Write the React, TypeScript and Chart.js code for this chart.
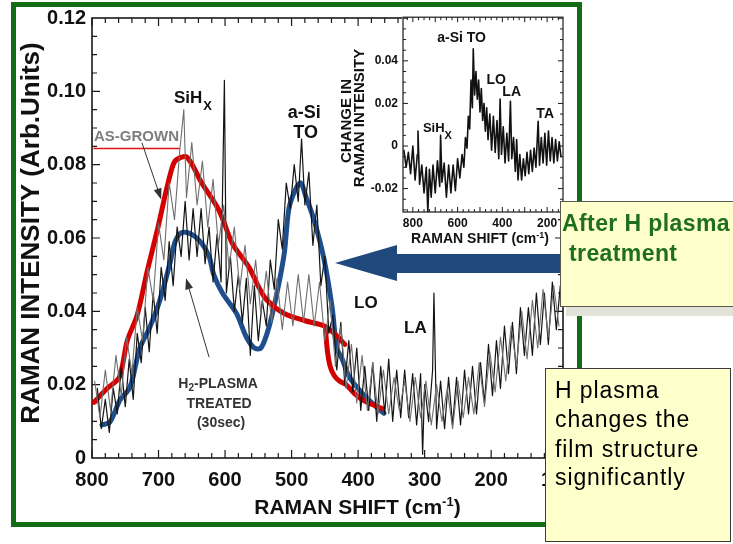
import React, { useEffect, useRef } from "react";
import { Chart, registerables } from "chart.js";

Chart.register(...registerables);

const FONT = "'Liberation Sans', Arial, Helvetica, sans-serif";

// ---------- axes ----------
const mainXTicks = [800, 700, 600, 500, 400, 300, 200, 100];
const mainYTicks = [0, 0.02, 0.04, 0.06, 0.08, 0.1, 0.12];
const insetXTicks = [800, 600, 400, 200];
const insetYTicks = [-0.02, 0, 0.02, 0.04];

// ---------- main spectrum: H2-plasma treated (black) ----------
const treatedShift = [
  792, 786, 780, 774, 768, 762, 756, 750, 744, 738, 732, 726, 720, 714, 708, 702, 696, 690, 684, 678,
  672, 666, 660, 654, 648, 642, 636, 630, 624, 618, 612, 606, 601, 598, 592, 586, 580, 574, 568, 562,
  556, 550, 544, 538, 532, 526, 520, 514, 508, 502, 496, 490, 485, 480, 474, 468, 462, 456, 450, 444,
  438, 432, 426, 420, 414, 408, 402, 396, 390, 384, 378, 372, 366, 360, 354, 348, 342, 336, 330, 324,
  318, 312, 306, 303, 300, 294, 288, 286, 282, 276, 270, 264, 258, 252, 246, 240, 234, 228, 222, 216,
  210, 204, 198, 192, 186, 180, 174, 168, 162, 156, 150, 144, 138, 132, 126, 120, 114, 108, 102, 96,
];
const treatedIntensity = [
  0.019, 0.008, 0.016, 0.007, 0.019, 0.012, 0.025, 0.014, 0.027, 0.016, 0.034, 0.026, 0.041, 0.029, 0.045, 0.034, 0.052, 0.043, 0.059, 0.047,
  0.063, 0.055, 0.07, 0.054, 0.068, 0.055, 0.068, 0.053, 0.063, 0.048, 0.061, 0.048, 0.103, 0.045, 0.055, 0.04, 0.05, 0.037, 0.049, 0.028,
  0.047, 0.032, 0.043, 0.036, 0.054, 0.046, 0.065, 0.057, 0.075, 0.068, 0.08, 0.07, 0.087, 0.069, 0.078, 0.058, 0.069, 0.047, 0.055, 0.034,
  0.039, 0.024, 0.037, 0.02, 0.032, 0.018, 0.03, 0.013, 0.025, 0.013, 0.026, 0.01, 0.025, 0.012, 0.027, 0.01, 0.024, 0.011, 0.024, 0.011,
  0.023, 0.009, 0.023, 0.001, 0.02, 0.01, 0.024, 0.045, 0.008, 0.021, 0.008, 0.022, 0.009, 0.022, 0.009, 0.024, 0.012, 0.025, 0.012, 0.026,
  0.015, 0.031, 0.017, 0.032, 0.019, 0.036, 0.023, 0.037, 0.023, 0.041, 0.028, 0.041, 0.028, 0.045, 0.031, 0.045, 0.031, 0.048, 0.035, 0.047,
];

// ---------- main spectrum: as-grown (grey) ----------
const asGrownShift = [
  796, 788, 780, 772, 764, 756, 748, 740, 732, 724, 716, 708, 700, 692, 684, 676, 668, 662, 658, 650,
  642, 634, 626, 618, 610, 602, 594, 586, 578, 570, 562, 554, 546, 538, 530, 522, 514, 506, 498, 490,
  482, 474, 466, 458, 450, 442, 434, 426, 418, 410, 402, 394, 386, 378, 370, 362, 354, 346, 338, 330,
  322, 314, 306, 298, 290, 282, 274, 266, 258, 250, 242, 234, 226, 218, 210, 202, 194, 186, 178, 170,
  162, 154, 146, 138, 130, 122, 114, 106, 98,
];
const asGrownIntensity = [
  0.021, 0.011, 0.024, 0.013, 0.028, 0.017, 0.033, 0.023, 0.041, 0.032, 0.052, 0.043, 0.064, 0.054, 0.075, 0.065, 0.084, 0.095, 0.071, 0.086,
  0.069, 0.081, 0.063, 0.076, 0.058, 0.069, 0.052, 0.063, 0.046, 0.058, 0.042, 0.054, 0.039, 0.051, 0.037, 0.049, 0.035, 0.048, 0.036, 0.05,
  0.037, 0.05, 0.036, 0.048, 0.032, 0.043, 0.025, 0.036, 0.019, 0.031, 0.015, 0.028, 0.013, 0.026, 0.012, 0.024, 0.012, 0.022, 0.013, 0.021,
  0.01, 0.022, 0.011, 0.021, 0.009, 0.02, 0.01, 0.019, 0.008, 0.021, 0.011, 0.022, 0.012, 0.026, 0.014, 0.029, 0.018, 0.033, 0.021, 0.036,
  0.025, 0.04, 0.027, 0.043, 0.03, 0.046, 0.033, 0.047, 0.036,
];

// ---------- hand-drawn guide curves ----------
const redShift = [797, 777, 759, 747, 732, 717, 702, 687, 678, 672, 657, 635, 609, 589, 564, 549, 537, 511, 481, 451, 436, 420];
const redIntensity = [0.0152, 0.019, 0.022, 0.032, 0.039, 0.051, 0.062, 0.074, 0.08, 0.0815, 0.082, 0.075, 0.0675, 0.0585, 0.052, 0.0465, 0.043, 0.0394, 0.0375, 0.036, 0.034, 0.031];
const redTailShift = [449, 446, 442, 436, 428, 418, 405, 390, 375, 364];
const redTailIntensity = [0.035, 0.029, 0.025, 0.0225, 0.021, 0.02, 0.0175, 0.0155, 0.0143, 0.0135];
const blueShift = [785, 773, 758, 743, 728, 713, 698, 683, 675, 665, 650, 635, 624, 617, 604, 583, 568, 556, 546, 534, 522, 511, 504, 493, 486, 478, 466, 451, 439, 432, 424, 413, 394, 373, 361];
const blueIntensity = [0.009, 0.0098, 0.0158, 0.0193, 0.03, 0.0357, 0.043, 0.053, 0.059, 0.0615, 0.061, 0.0585, 0.055, 0.05, 0.045, 0.0395, 0.033, 0.03, 0.03, 0.0357, 0.045, 0.0558, 0.068, 0.0737, 0.075, 0.071, 0.0648, 0.054, 0.041, 0.03, 0.027, 0.022, 0.0177, 0.014, 0.0122];
const underlineShift = [797, 669];
const underlineIntensity = [0.0844, 0.0844];

// ---------- inset: change in Raman intensity ----------
const insetShift = [
  840, 830, 820, 810, 800, 790, 780, 777, 770, 760, 750, 740, 733, 726, 718, 710, 700, 690, 680, 676,
  670, 660, 650, 640, 630, 620, 610, 600, 590, 580, 572, 565, 558, 552, 546, 540, 534, 530, 524, 518,
  512, 506, 500, 494, 488, 482, 476, 470, 464, 456, 448, 440, 432, 424, 416, 410, 404, 396, 388, 380,
  372, 364, 358, 350, 342, 336, 330, 322, 314, 306, 298, 290, 282, 274, 266, 258, 250, 240, 234, 226,
  218, 210, 202, 194, 186, 178, 170, 162, 154, 146, 138,
];
const insetChange = [
  -0.002, -0.01, -0.003, -0.013, 0.0, -0.016, -0.004, 0.007, -0.018, -0.009, -0.022, -0.01, -0.031, -0.011, -0.024, -0.009, -0.022, -0.007, -0.019, 0.005,
  -0.017, -0.008, -0.024, -0.009, -0.022, -0.009, -0.021, -0.006, -0.015, -0.004, -0.01, 0.004, -0.001, 0.014, 0.008, 0.031, 0.018, 0.0456, 0.024, 0.035,
  0.022, 0.031, 0.016, 0.027, 0.012, 0.02, 0.007, 0.018, 0.003, 0.015, -0.002, 0.014, -0.003, 0.012, -0.006, 0.022, -0.004, 0.009, -0.008, 0.006,
  -0.007, 0.021, -0.006, 0.004, -0.012, 0.003, -0.016, -0.004, -0.016, -0.006, -0.014, -0.003, -0.013, -0.002, -0.012, -0.001, -0.01, 0.0116, -0.009, 0.004,
  -0.008, 0.006, -0.009, 0.007, -0.007, 0.004, -0.008, 0.003, -0.007, 0.002, -0.005,
];

const pts = (xs: number[], ys: number[]) => xs.map((x, i) => ({ x, y: ys[i] }));

function drawArrow(ctx: CanvasRenderingContext2D, x1: number, y1: number, x2: number, y2: number, color: string) {
  const ang = Math.atan2(y2 - y1, x2 - x1);
  const hl = 11;
  const hw = 4;
  ctx.strokeStyle = color;
  ctx.fillStyle = color;
  ctx.lineWidth = 1;
  ctx.beginPath();
  ctx.moveTo(x1, y1);
  ctx.lineTo(x2 - hl * 0.7 * Math.cos(ang), y2 - hl * 0.7 * Math.sin(ang));
  ctx.stroke();
  ctx.beginPath();
  ctx.moveTo(x2, y2);
  ctx.lineTo(x2 - hl * Math.cos(ang) + hw * Math.sin(ang), y2 - hl * Math.sin(ang) - hw * Math.cos(ang));
  ctx.lineTo(x2 - hl * Math.cos(ang) - hw * Math.sin(ang), y2 - hl * Math.sin(ang) + hw * Math.cos(ang));
  ctx.closePath();
  ctx.fill();
}

function txt(ctx: CanvasRenderingContext2D, s: string, x: number, y: number, size: number, align: CanvasTextAlign = "left", color = "#111", weight = "bold") {
  ctx.font = `${weight} ${size}px ${FONT}`;
  ctx.fillStyle = color;
  ctx.textAlign = align;
  ctx.textBaseline = "alphabetic";
  ctx.fillText(s, x, y);
}

// parts: [text, size, rise]
function runText(ctx: CanvasRenderingContext2D, parts: [string, number, number][], cx: number, baseline: number, color = "#111") {
  let total = 0;
  const widths = parts.map(([s, size]) => {
    ctx.font = `bold ${size}px ${FONT}`;
    const w = ctx.measureText(s).width;
    total += w;
    return w;
  });
  let x = cx - total / 2;
  parts.forEach(([s, size, rise], i) => {
    txt(ctx, s, x, baseline - rise, size, "left", color);
    x += widths[i];
  });
}

const mainDecor = {
  id: "mainDecor",
  beforeDatasetsDraw(chart: any) {
    const { ctx, chartArea: a } = chart;
    const x = chart.scales.x;
    const y = chart.scales.y;
    ctx.save();
    ctx.strokeStyle = "#1a1a1a";
    ctx.lineWidth = 1.2;
    ctx.beginPath();
    for (let v = 100; v <= 800; v += 20) {
      const px = x.getPixelForValue(v);
      const len = v % 100 === 0 ? 8 : 5;
      ctx.moveTo(px, a.bottom);
      ctx.lineTo(px, a.bottom - len);
      ctx.moveTo(px, a.top);
      ctx.lineTo(px, a.top + len);
    }
    for (let k = 1; k < 24; k++) {
      const py = y.getPixelForValue(k * 0.005);
      const len = k % 4 === 0 ? 8 : 5;
      ctx.moveTo(a.left, py);
      ctx.lineTo(a.left + len, py);
      ctx.moveTo(a.right, py);
      ctx.lineTo(a.right - len, py);
    }
    ctx.stroke();
    ctx.lineWidth = 1.6;
    ctx.strokeRect(a.left, a.top, a.right - a.left, a.bottom - a.top);
    ctx.restore();
  },
  afterDatasetsDraw(chart: any) {
    const { ctx } = chart;
    const X = (v: number) => chart.scales.x.getPixelForValue(v);
    const Y = (v: number) => chart.scales.y.getPixelForValue(v);
    ctx.save();
    // peak labels
    txt(ctx, "SiH", X(676.7), Y(0.0969), 17);
    ctx.font = `bold 17px ${FONT}`;
    const wSiH = ctx.measureText("SiH").width;
    txt(ctx, "X", X(676.7) + wSiH + 1, Y(0.0948), 13);
    txt(ctx, "a-Si", X(481), Y(0.0928), 18, "center");
    txt(ctx, "TO", X(479), Y(0.0873), 18, "center");
    txt(ctx, "LO", X(406), Y(0.0408), 17);
    txt(ctx, "LA", X(331), Y(0.034), 17);
    txt(ctx, "AS-GROWN", X(797), Y(0.0865), 15, "left", "#7d7d7d");
    // H2-plasma caption
    runText(ctx, [["H", 14, 0], ["2", 10, -3], ["-PLASMA", 14, 0]], X(610.5), Y(0.019), "#333");
    txt(ctx, "TREATED", X(609), Y(0.0136), 14, "center", "#333");
    txt(ctx, "(30sec)", X(606), Y(0.0084), 14, "center", "#333");
    // pointer arrows
    drawArrow(ctx, X(725), Y(0.086), X(696), Y(0.0705), "#333");
    drawArrow(ctx, X(624), Y(0.0275), X(658.6), Y(0.049), "#333");
    // axis titles
    ctx.save();
    ctx.translate(32, 233);
    ctx.rotate(-Math.PI / 2);
    ctx.font = `bold 26px ${FONT}`;
    ctx.fillStyle = "#111";
    ctx.textAlign = "center";
    ctx.textBaseline = "middle";
    ctx.fillText("RAMAN INTENSITY (Arb.Units)", 0, 0);
    ctx.restore();
    runText(ctx, [["RAMAN SHIFT (cm", 21, 0], ["-1", 13, 8], [")", 21, 0]], X(401), 514);
    ctx.restore();
  },
};

const insetDecor = {
  id: "insetDecor",
  beforeDraw(chart: any) {
    const { ctx, chartArea: a } = chart;
    ctx.save();
    ctx.fillStyle = "#ffffff";
    ctx.fillRect(a.left - 1, a.top - 1, a.right - a.left + 2, a.bottom - a.top + 2);
    ctx.restore();
  },
  beforeDatasetsDraw(chart: any) {
    const { ctx, chartArea: a } = chart;
    const x = chart.scales.x;
    const y = chart.scales.y;
    ctx.save();
    ctx.strokeStyle = "#1a1a1a";
    ctx.lineWidth = 1;
    ctx.beginPath();
    for (let v = 150; v <= 825; v += 25) {
      const px = x.getPixelForValue(v);
      const len = v % 100 === 0 ? 5 : 3;
      ctx.moveTo(px, a.bottom);
      ctx.lineTo(px, a.bottom - len);
      ctx.moveTo(px, a.top);
      ctx.lineTo(px, a.top + len);
    }
    for (let k = -6; k <= 12; k++) {
      const py = y.getPixelForValue(k * 0.005);
      const len = k % 4 === 0 ? 5 : 3;
      ctx.moveTo(a.left, py);
      ctx.lineTo(a.left + len, py);
      ctx.moveTo(a.right, py);
      ctx.lineTo(a.right - len, py);
    }
    ctx.stroke();
    ctx.lineWidth = 1.2;
    ctx.strokeRect(a.left, a.top, a.right - a.left, a.bottom - a.top);
    ctx.restore();
  },
  afterDatasetsDraw(chart: any) {
    const { ctx } = chart;
    const X = (v: number) => chart.scales.x.getPixelForValue(v);
    const Y = (v: number) => chart.scales.y.getPixelForValue(v);
    ctx.save();
    txt(ctx, "a-Si TO", X(582), Y(0.0488), 14, "center");
    txt(ctx, "LO", X(471), Y(0.0293), 14);
    txt(ctx, "LA", X(400), Y(0.0233), 14);
    txt(ctx, "TA", X(248), Y(0.013), 14);
    txt(ctx, "SiH", X(755), Y(0.00665), 13);
    ctx.font = `bold 13px ${FONT}`;
    const w = ctx.measureText("SiH").width;
    txt(ctx, "X", X(755) + w, Y(0.0033), 11);
    // rotated y title (two lines)
    ctx.save();
    ctx.translate(17, 116);
    ctx.rotate(-Math.PI / 2);
    ctx.font = `bold 15px ${FONT}`;
    ctx.fillStyle = "#111";
    ctx.textAlign = "center";
    ctx.textBaseline = "middle";
    ctx.fillText("CHANGE IN", 0, 0);
    ctx.restore();
    ctx.save();
    ctx.translate(30, 113);
    ctx.rotate(-Math.PI / 2);
    ctx.font = `bold 15px ${FONT}`;
    ctx.fillStyle = "#111";
    ctx.textAlign = "center";
    ctx.textBaseline = "middle";
    ctx.fillText("RAMAN INTENSITY", 0, 0);
    ctx.restore();
    runText(ctx, [["RAMAN SHIFT (cm", 14, 0], ["-1", 9, 5], [")", 14, 0]], 150, 238);
    ctx.restore();
  },
};

function line(data: { x: number; y: number }[], color: string, width: number, tension = 0) {
  return {
    data,
    showLine: true,
    borderColor: color,
    backgroundColor: color,
    borderWidth: width,
    pointRadius: 0,
    tension,
    borderCapStyle: "round",
    borderJoinStyle: "round",
    fill: false,
  };
}

export default function App() {
  const mainRef = useRef<HTMLCanvasElement>(null);
  const insetRef = useRef<HTMLCanvasElement>(null);

  useEffect(() => {
    const tickFontMain = { family: FONT, size: 20, weight: "bold" as const };
    const main = new Chart(mainRef.current as HTMLCanvasElement, {
      type: "scatter",
      data: {
        datasets: [
          line(pts(asGrownShift, asGrownIntensity), "#6f6f6f", 1.1),
          line(pts(treatedShift, treatedIntensity), "#141414", 1.2),
          line(pts(underlineShift, underlineIntensity), "#e01010", 1.5),
          line(pts(redShift, redIntensity), "#d40000", 5, 0.3),
          line(pts(redTailShift, redTailIntensity), "#d40000", 5, 0.3),
          line(pts(blueShift, blueIntensity), "#1f4e8c", 5, 0.3),
        ] as any,
      },
      options: {
        animation: false,
        responsive: false,
        maintainAspectRatio: false,
        events: [],
        layout: { padding: { left: 0, top: 17, right: 170, bottom: 0 } },
        plugins: { legend: { display: false }, tooltip: { enabled: false } },
        scales: {
          x: {
            type: "linear",
            reverse: true,
            min: 92,
            max: 800,
            afterBuildTicks: (s: any) => {
              s.ticks = mainXTicks.map((v) => ({ value: v }));
            },
            afterFit: (s: any) => {
              s.height = 86;
            },
            grid: { display: false, drawTicks: false },
            border: { display: false },
            ticks: { autoSkip: false, maxRotation: 0, padding: 10, color: "#111", font: tickFontMain, callback: (v: any) => String(v) },
          },
          y: {
            type: "linear",
            min: 0,
            max: 0.12,
            afterBuildTicks: (s: any) => {
              s.ticks = mainYTicks.map((v) => ({ value: v }));
            },
            afterFit: (s: any) => {
              s.width = 92;
            },
            grid: { display: false, drawTicks: false },
            border: { display: false },
            ticks: { autoSkip: false, padding: 6, color: "#111", font: tickFontMain, callback: (v: any) => (Number(v) === 0 ? "0" : Number(v).toFixed(2)) },
          },
        },
      } as any,
      plugins: [mainDecor],
    });

    const tickFontInset = { family: FONT, size: 12, weight: "bold" as const };
    const inset = new Chart(insetRef.current as HTMLCanvasElement, {
      type: "scatter",
      data: {
        datasets: [line(pts(insetShift, insetChange), "#111", 1.6)] as any,
      },
      options: {
        animation: false,
        responsive: false,
        maintainAspectRatio: false,
        events: [],
        layout: { padding: { left: 0, top: 10, right: 7, bottom: 0 } },
        plugins: { legend: { display: false }, tooltip: { enabled: false } },
        scales: {
          x: {
            type: "linear",
            reverse: true,
            min: 129,
            max: 844,
            afterBuildTicks: (s: any) => {
              s.ticks = insetXTicks.map((v) => ({ value: v }));
            },
            afterFit: (s: any) => {
              s.height = 38;
            },
            grid: { display: false, drawTicks: false },
            border: { display: false },
            ticks: { autoSkip: false, maxRotation: 0, padding: 4, color: "#111", font: tickFontInset, callback: (v: any) => String(v) },
          },
          y: {
            type: "linear",
            min: -0.031,
            max: 0.0605,
            afterBuildTicks: (s: any) => {
              s.ticks = insetYTicks.map((v) => ({ value: v }));
            },
            afterFit: (s: any) => {
              s.width = 73;
            },
            grid: { display: false, drawTicks: false },
            border: { display: false },
            ticks: { autoSkip: false, padding: 5, color: "#111", font: tickFontInset, callback: (v: any) => (Number(v) === 0 ? "0" : Number(v).toFixed(2)) },
          },
        },
      } as any,
      plugins: [insetDecor],
    });

    return () => {
      main.destroy();
      inset.destroy();
    };
  }, []);

  const box2Line: React.CSSProperties = {
    position: "absolute",
    left: 555,
    font: `400 23px ${FONT}`,
    lineHeight: "29px",
    letterSpacing: "0.9px",
    color: "#000",
    whiteSpace: "nowrap",
  };
  const box1Line: React.CSSProperties = {
    position: "absolute",
    font: `700 23px ${FONT}`,
    lineHeight: "30px",
    letterSpacing: "0.4px",
    color: "#1f6f1f",
    whiteSpace: "nowrap",
  };

  return (
    <div style={{ position: "fixed", left: 0, top: 0, width: 733, height: 544, background: "#fff", overflow: "hidden" }}>
      <div style={{ position: "absolute", left: 11, top: 2, width: 571, height: 525, border: "5px solid #136d16", boxSizing: "border-box" }} />
      <canvas ref={mainRef} width={733} height={544} style={{ position: "absolute", left: 0, top: 0, width: 733, height: 544 }} />
      <canvas ref={insetRef} width={240} height={245} style={{ position: "absolute", left: 330, top: 5, width: 240, height: 245 }} />
      <svg width={733} height={544} style={{ position: "absolute", left: 0, top: 0 }}>
        <polygon points="335,263 397,245 397,254 565,254 565,273 397,273 397,281" fill="#1f497d" />
      </svg>
      <div
        style={{
          position: "absolute",
          left: 560,
          top: 201,
          width: 200,
          height: 106,
          background: "#ffffcc",
          border: "1.5px solid #5a5a50",
          boxSizing: "border-box",
          boxShadow: "6px 9px 0 #e2e2d8",
        }}
      />
      <div style={{ ...box1Line, left: 562, top: 208 }}>After H plasma</div>
      <div style={{ ...box1Line, left: 569, top: 238 }}>treatment</div>
      <div
        style={{
          position: "absolute",
          left: 545,
          top: 368,
          width: 186,
          height: 174,
          background: "#ffffcc",
          border: "1.5px solid #3a3a3a",
          boxSizing: "border-box",
        }}
      />
      <div style={{ ...box2Line, top: 375.5 }}>H plasma</div>
      <div style={{ ...box2Line, top: 404.5 }}>changes the</div>
      <div style={{ ...box2Line, top: 434.5 }}>film structure</div>
      <div style={{ ...box2Line, top: 462.5 }}>significantly</div>
    </div>
  );
}
